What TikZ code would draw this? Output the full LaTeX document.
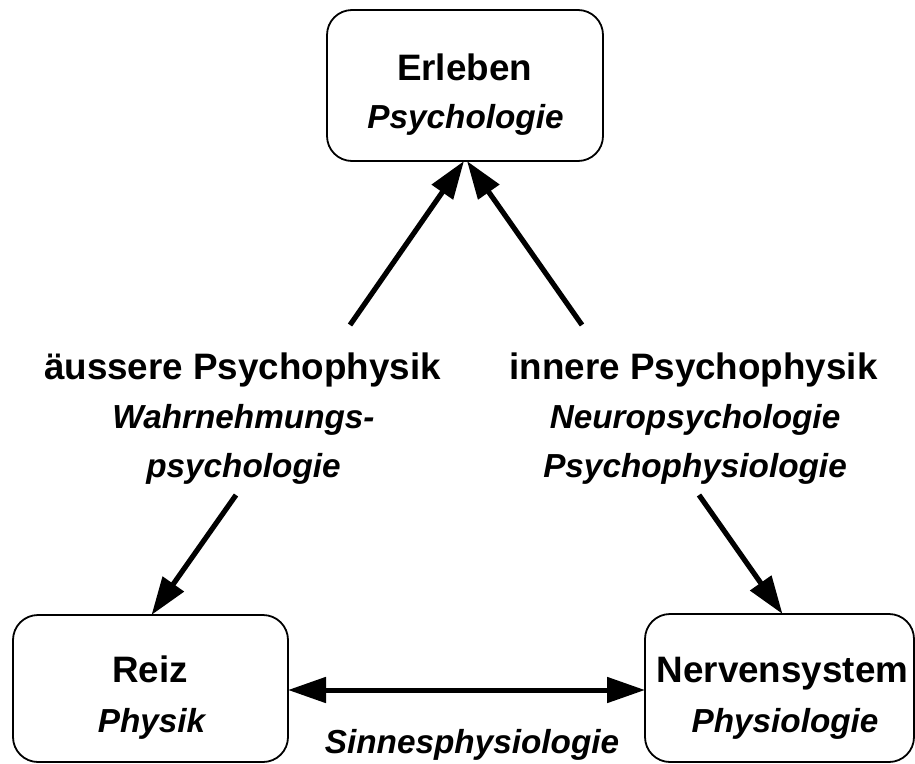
\documentclass[tikz,border=0pt]{standalone}
\usepackage{fontspec}
\setmainfont{Liberation Sans}
\usetikzlibrary{arrows.meta}
\begin{document}
\begin{tikzpicture}[x=1pt,y=-1pt,
  box/.style={draw=black,line width=1.8pt,rounded corners=25pt,inner sep=0pt,outer sep=0pt},
  head/.style={inner sep=0pt,anchor=base,font=\fontsize{36.8}{44}\selectfont\bfseries},
  sub/.style={inner sep=0pt,anchor=base,font=\fontsize{33.3}{40}\selectfont\bfseries\itshape},
  arr/.style={line width=5.2pt,-{Triangle[length=38pt,width=25pt]}},
  darr/.style={line width=5pt,{Triangle[length=38pt,width=25pt]}-{Triangle[length=38pt,width=25pt]}}]
\useasboundingbox (0,0) rectangle (915,763);
% boxes
\node[box,minimum width=276pt,minimum height=151pt] (erleben) at (465,85.5) {};
\node[box,minimum width=275pt,minimum height=147pt] (reiz) at (150.5,688.5) {};
\node[box,minimum width=269pt,minimum height=148pt] (nerven) at (779.5,688) {};
% box texts
\node[head] (erlebenA) at (464.5,80) {Erleben};
\node[sub] (erlebenB) at (465.5,128) {Psychologie};
\node[head] (reizA) at (150,682) {Reiz};
\node[sub] (reizB) at (151.5,732) {Physik};
\node[head] (nervenA) at (782.5,682) {Nervensystem};
\node[sub] (nervenB) at (785,732) {Physiologie};
% labels
\node[head] (aussA) at (242.5,379) {äussere Psychophysik};
\node[sub] (aussB) at (243.5,428) {Wahrnehmungs-};
\node[sub] (aussC) at (243.5,477) {psychologie};
\node[head] (innA) at (693.5,379) {innere Psychophysik};
\node[sub] (innB) at (695,428) {Neuropsychologie};
\node[sub] (innC) at (695,477) {Psychophysiologie};
\node[sub] (sinn) at (472,753) {Sinnesphysiologie};
% connector ends
\coordinate (a1) at (350,325);
\coordinate (a2) at (236,495);
\coordinate (a3) at (582,325);
\coordinate (a4) at (699,495);
% connectors
\draw[arr] (a1) -- ([xshift=-1pt]erleben.south);
\draw[arr] (a3) -- ([xshift=2pt]erleben.south);
\draw[arr] (a2) -- ([xshift=1pt]reiz.north);
\draw[arr] (a4) -- ([xshift=3pt]nerven.north);
\draw[darr] ([yshift=-1.5pt]reiz.east) -- ([yshift=-2pt]nerven.west);
\end{tikzpicture}
\end{document}
